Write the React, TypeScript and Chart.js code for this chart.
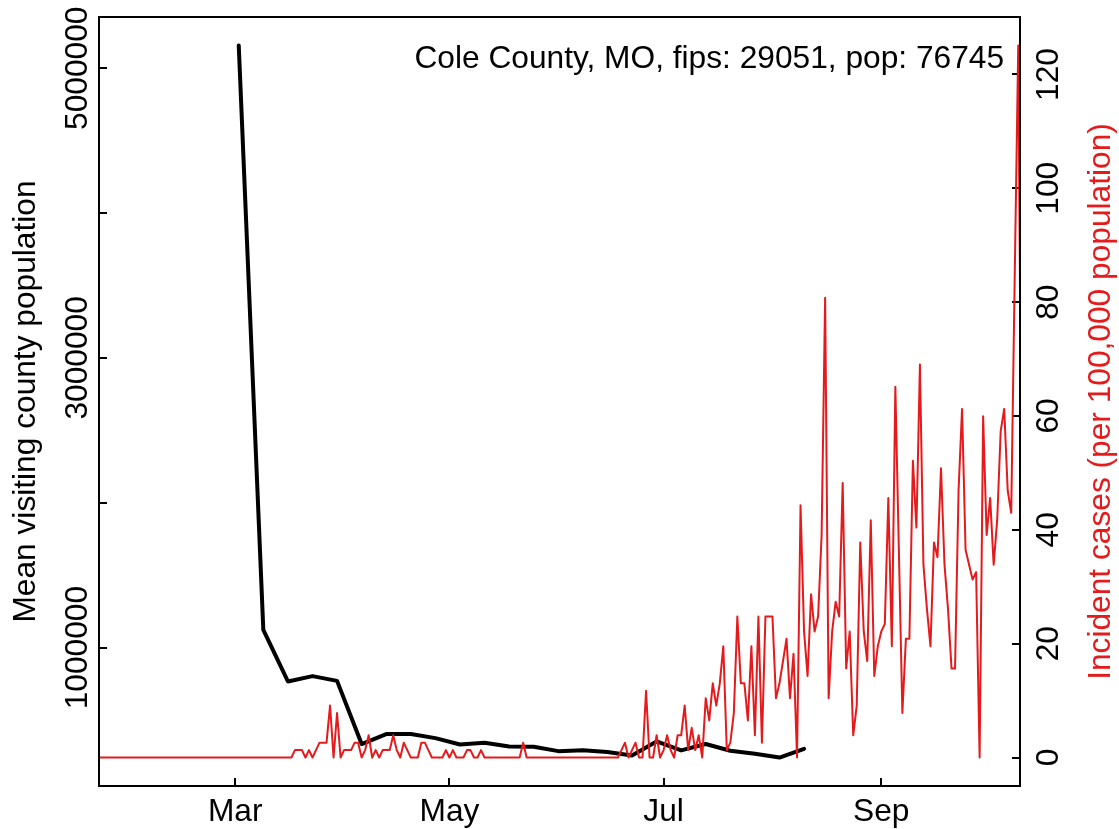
import React, { useEffect, useRef } from 'react';
import { Chart, registerables } from 'chart.js';

Chart.register(...registerables);

// ---------- text ----------
const CHART_TITLE = 'Cole County, MO, fips: 29051, pop: 76745';
const LEFT_AXIS_TITLE = 'Mean visiting county population';
const RIGHT_AXIS_TITLE = 'Incident cases (per 100,000 population)';
const POPULATION = 76745;

// ---------- x axis (day of year 2020, Jan 1 = 0) ----------
const X_MIN = 21.2;
const X_MAX = 283.5;
const monthTickDays = [60, 121, 182, 244];
const monthTickLabels = ['Mar', 'May', 'Jul', 'Sep'];

// ---------- left axis ----------
const leftTickValues = [1000000, 2000000, 3000000, 4000000, 5000000];
const leftTickLabels = ['1000000', '', '3000000', '', '5000000'];

// ---------- right axis ----------
const rightTickValues = [0, 20, 40, 60, 80, 100, 120];
const rightTickLabels = ['0', '20', '40', '60', '80', '100', '120'];

// ---------- weekly mean visiting county population (black) ----------
const visitDays = [61, 68, 75, 82, 89, 96, 103, 110, 117, 124, 131, 138, 145, 152, 159, 166, 173, 180, 187, 194, 201, 208, 215, 222];
const visitValues = [
  5157000, 1122000, 766000, 803000, 770000, 334000, 403000, 403000, 375000, 331000, 343000, 317000,
  315000, 285000, 292000, 279000, 255000, 352000, 290000, 334000, 288000, 267000, 241000, 301000,
];

// ---------- daily incident cases (red), first day = day 21 (Jan 22) ----------
const caseStartDay = 21;
const dailyCases = [
  0, 0, 0, 0, 0, 0, 0, 0, 0, 0, // 21-30
  0, 0, 0, 0, 0, 0, 0, 0, 0, 0, // 31-40
  0, 0, 0, 0, 0, 0, 0, 0, 0, 0, // 41-50
  0, 0, 0, 0, 0, 0, 0, 0, 0, 0, // 51-60
  0, 0, 0, 0, 0, 0, 0, 0, 0, 0, // 61-70
  0, 0, 0, 0, 0, 0, 1, 1, 1, 0, // 71-80
  1, 0, 1, 2, 2, 2, 7, 0, 6, 0, // 81-90
  1, 1, 1, 2, 2, 0, 1, 3, 0, 1, // 91-100
  0, 1, 1, 1, 3, 1, 0, 2, 1, 0, // 101-110
  0, 0, 2, 2, 1, 0, 0, 0, 0, 1, // 111-120
  0, 1, 0, 0, 0, 1, 1, 0, 0, 1, // 121-130
  0, 0, 0, 0, 0, 0, 0, 0, 0, 0, // 131-140
  0, 2, 0, 0, 0, 0, 0, 0, 0, 0, // 141-150
  0, 0, 0, 0, 0, 0, 0, 0, 0, 0, // 151-160
  0, 0, 0, 0, 0, 0, 0, 0, 0, 1, // 161-170
  2, 0, 1, 2, 0, 0, 9, 0, 0, 3, // 171-180
  0, 1, 3, 1, 0, 3, 3, 7, 1, 4, // 181-190
  1, 3, 0, 8, 5, 10, 7, 10, 15, 1, // 191-200
  2, 6, 19, 10, 10, 5, 15, 3, 19, 2, // 201-210
  19, 19, 19, 8, 10, 13, 16, 8, 14, 0, // 211-220
  34, 17, 11, 22, 17, 19, 30, 62, 8, 17, // 221-230
  21, 19, 37, 12, 17, 3, 7, 29, 17, 13, // 231-240
  32, 11, 15, 17, 18, 35, 15, 50, 28, 6, // 241-250
  16, 16, 40, 31, 53, 26, 20, 15, 29, 27, // 251-260
  39, 26, 20, 12, 12, 36, 47, 28, 26, 24, // 261-270
  25, 0, 46, 30, 35, 26, 32, 44, 47, 36, // 271-280
  33, 65, 96, 30, // 281-284
];

// ---------- styles ----------
const RED = '#e41a1c';
const FONT = '31.7px "Liberation Sans", Arial, Helvetica, sans-serif';

function paddedRange(values: number[]) {
  const lo = Math.min(...values);
  const hi = Math.max(...values);
  const pad = (hi - lo) * 0.04;
  return { min: lo - pad, max: hi + pad };
}

const overlayPlugin = {
  id: 'overlayText',
  afterDatasetsDraw(chart: any) {
    const { ctx, chartArea: a, scales } = chart;
    ctx.save();
    // box around plot
    ctx.strokeStyle = '#000';
    ctx.lineWidth = 2;
    ctx.strokeRect(a.left, a.top, a.right - a.left, a.bottom - a.top);

    ctx.font = FONT;
    ctx.fillStyle = '#000';
    ctx.textBaseline = 'alphabetic';

    // x tick labels
    ctx.textAlign = 'center';
    monthTickDays.forEach((d, i) => {
      ctx.fillText(monthTickLabels[i], scales.x.getPixelForValue(d), a.bottom + 35);
    });

    const rotated = (text: string, x: number, y: number, color: string) => {
      ctx.save();
      ctx.translate(x, y);
      ctx.rotate(-Math.PI / 2);
      ctx.fillStyle = color;
      ctx.textAlign = 'center';
      ctx.textBaseline = 'alphabetic';
      ctx.fillText(text, 0, 0);
      ctx.restore();
    };

    leftTickValues.forEach((v, i) => {
      if (leftTickLabels[i]) rotated(leftTickLabels[i], a.left - 11.7, scales.yL.getPixelForValue(v), '#000');
    });
    rightTickValues.forEach((v, i) => {
      rotated(rightTickLabels[i], a.right + 38, scales.yR.getPixelForValue(v), '#000');
    });

    const midY = (a.top + a.bottom) / 2;
    rotated(LEFT_AXIS_TITLE, 35, midY, '#000');
    rotated(RIGHT_AXIS_TITLE, 1110, midY, RED);

    ctx.textAlign = 'right';
    ctx.fillStyle = '#000';
    ctx.fillText(CHART_TITLE, a.right - 16, a.top + 51);
    ctx.restore();
  },
};

export default function App() {
  const canvasRef = useRef<HTMLCanvasElement | null>(null);

  useEffect(() => {
    document.body.style.margin = '0';
    const canvas = canvasRef.current;
    if (!canvas) return;

    const visitPoints = visitDays.map((d, i) => ({ x: d, y: visitValues[i] }));
    const incidence = dailyCases.map((c) => (c * 100000) / POPULATION);
    const casePoints = incidence.map((v, i) => ({ x: caseStartDay + i, y: v }));

    const leftRange = paddedRange(visitValues);
    const rightRange = paddedRange(incidence);

    const tickGrid = {
      display: true,
      drawOnChartArea: false,
      drawTicks: true,
      tickLength: -8,
      color: '#000',
      lineWidth: 2,
    };

    const chart = new Chart(canvas, {
      type: 'line',
      data: {
        datasets: [
          {
            label: 'Incident cases',
            data: casePoints,
            yAxisID: 'yR',
            borderColor: RED,
            borderWidth: 2,
            pointRadius: 0,
            tension: 0,
            borderJoinStyle: 'round',
            borderCapStyle: 'round',
            fill: false,
          },
          {
            label: 'Mean visiting county population',
            data: visitPoints,
            yAxisID: 'yL',
            borderColor: '#000',
            borderWidth: 4,
            pointRadius: 0,
            tension: 0,
            borderJoinStyle: 'round',
            borderCapStyle: 'round',
            fill: false,
          },
        ],
      },
      options: {
        responsive: false,
        animation: false,
        events: [],
        layout: { padding: { top: 17, left: 0, right: 0, bottom: 0 } },
        plugins: { legend: { display: false }, tooltip: { enabled: false }, title: { display: false } },
        scales: {
          x: {
            type: 'linear',
            position: 'bottom',
            min: X_MIN,
            max: X_MAX,
            afterBuildTicks: (s: any) => {
              s.ticks = monthTickDays.map((value) => ({ value }));
            },
            afterFit: (s: any) => {
              s.height = 43;
            },
            ticks: { display: false },
            grid: tickGrid,
            border: { display: false },
          },
          yL: {
            type: 'linear',
            position: 'left',
            min: leftRange.min,
            max: leftRange.max,
            afterBuildTicks: (s: any) => {
              s.ticks = leftTickValues.map((value) => ({ value }));
            },
            afterFit: (s: any) => {
              s.width = 99;
            },
            ticks: { display: false },
            grid: tickGrid,
            border: { display: false },
          },
          yR: {
            type: 'linear',
            position: 'right',
            min: rightRange.min,
            max: rightRange.max,
            afterBuildTicks: (s: any) => {
              s.ticks = rightTickValues.map((value) => ({ value }));
            },
            afterFit: (s: any) => {
              s.width = 99;
            },
            ticks: { display: false },
            grid: tickGrid,
            border: { display: false },
          },
        },
      } as any,
      plugins: [overlayPlugin],
    });

    return () => chart.destroy();
  }, []);

  return <canvas ref={canvasRef} width={1119} height={829} style={{ display: 'block' }} />;
}
